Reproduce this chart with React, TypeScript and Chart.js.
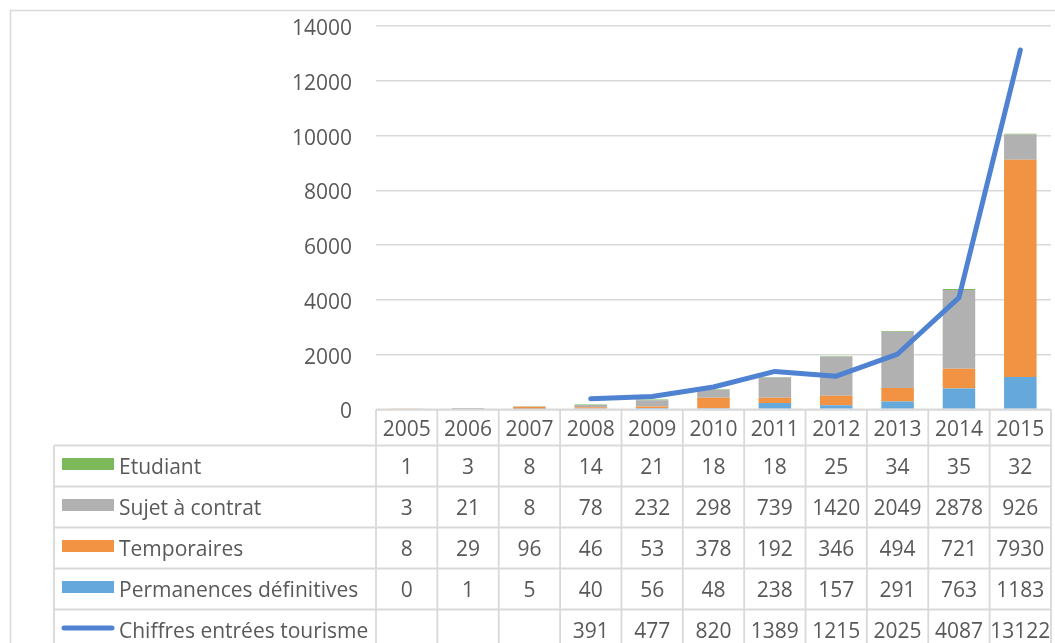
import React, { useEffect, useRef } from 'react';
import { Chart, registerables } from 'chart.js';

Chart.register(...registerables);

const years = ['2005', '2006', '2007', '2008', '2009', '2010', '2011', '2012', '2013', '2014', '2015'];
const etudiant = [1, 3, 8, 14, 21, 18, 18, 25, 34, 35, 32];
const sujetContrat = [3, 21, 8, 78, 232, 298, 739, 1420, 2049, 2878, 926];
const temporaires = [8, 29, 96, 46, 53, 378, 192, 346, 494, 721, 7930];
const permanences = [0, 1, 5, 40, 56, 48, 238, 157, 291, 763, 1183];
const tourisme: (number | null)[] = [null, null, null, 391, 477, 820, 1389, 1215, 2025, 4087, 13122];

const yMin = 0;
const yMax = 14000;
const yStep = 2000;

const FONT = '"Open Sans", Lato, sans-serif';
const TEXT_COLOR = '#595959';
const LINE_COLOR = '#D9D9D9';

const C_ETUD = '#7DB95A';
const C_SUJET = '#B1B1B1';
const C_TEMP = '#F29343';
const C_PERM = '#65A8DC';
const C_TOUR = '#4F82D1';

const tableRows = [
  { label: 'Etudiant', values: etudiant, color: C_ETUD, kind: 'bar' },
  { label: 'Sujet à contrat', values: sujetContrat, color: C_SUJET, kind: 'bar' },
  { label: 'Temporaires', values: temporaires, color: C_TEMP, kind: 'bar' },
  { label: 'Permanences définitives', values: permanences, color: C_PERM, kind: 'bar' },
  { label: 'Chiffres entrées tourisme', values: tourisme, color: C_TOUR, kind: 'line' },
];

const dataTablePlugin = {
  id: 'dataTable',
  afterDraw(chart: any) {
    const ctx: CanvasRenderingContext2D = chart.ctx;
    const area = chart.chartArea;
    const xs = chart.scales.x;
    const n = years.length;
    const colW = (area.right - area.left) / n;
    const top = area.bottom;
    const headerH = 36;
    const rowH = 41;
    const tableLeft = 54;
    const bodyTop = top + headerH;
    const bottom = bodyTop + rowH * tableRows.length;

    ctx.save();
    ctx.strokeStyle = LINE_COLOR;
    ctx.lineWidth = 1.5;
    ctx.beginPath();
    ctx.moveTo(10.5, chart.height);
    ctx.lineTo(10.5, 10.5);
    ctx.lineTo(chart.width, 10.5);
    ctx.stroke();

    ctx.strokeStyle = LINE_COLOR;
    ctx.lineWidth = 1.8;
    ctx.beginPath();
    ctx.moveTo(area.left, top);
    ctx.lineTo(area.right, top);
    for (let k = 0; k <= tableRows.length; k++) {
      const y = bodyTop + k * rowH;
      ctx.moveTo(tableLeft, y);
      ctx.lineTo(area.right, y);
    }
    ctx.moveTo(tableLeft, bodyTop);
    ctx.lineTo(tableLeft, bottom);
    for (let i = 0; i <= n; i++) {
      const x = area.left + i * colW;
      ctx.moveTo(x, top);
      ctx.lineTo(x, bottom);
    }
    ctx.stroke();

    ctx.fillStyle = TEXT_COLOR;
    ctx.font = `21px ${FONT}`;
    ctx.textAlign = 'center';
    ctx.textBaseline = 'middle';
    years.forEach((yr, i) => {
      ctx.fillText(yr, xs.getPixelForValue(i), top + headerH / 2 + 3);
    });

    tableRows.forEach((row, k) => {
      const cy = bodyTop + k * rowH + rowH / 2;
      if (row.kind === 'bar') {
        ctx.fillStyle = row.color;
        ctx.fillRect(62, cy - 8, 52, 12);
      } else {
        ctx.strokeStyle = row.color;
        ctx.lineWidth = 5;
        ctx.lineCap = 'round';
        ctx.beginPath();
        ctx.moveTo(64, cy - 2);
        ctx.lineTo(112, cy - 2);
        ctx.stroke();
      }
      ctx.fillStyle = TEXT_COLOR;
      ctx.textAlign = 'left';
      ctx.fillText(row.label, 119, cy + 2);
      ctx.textAlign = 'center';
      row.values.forEach((v: number | null, i: number) => {
        if (v === null || v === undefined) return;
        ctx.fillText(String(v), xs.getPixelForValue(i), cy + 2);
      });
    });
    ctx.restore();
  },
};

export default function App() {
  const canvasRef = useRef<HTMLCanvasElement | null>(null);

  useEffect(() => {
    if (!canvasRef.current) return;
    const chart = new Chart(canvasRef.current, {
      type: 'bar',
      data: {
        labels: years,
        datasets: [
          {
            type: 'line',
            label: 'Chiffres entrées tourisme',
            data: tourisme,
            borderColor: C_TOUR,
            backgroundColor: C_TOUR,
            borderWidth: 5,
            borderCapStyle: 'round',
            borderJoinStyle: 'round',
            pointRadius: 0,
            tension: 0,
            spanGaps: false,
            stack: 'tour',
            order: 0,
          } as any,
          { label: 'Permanences définitives', data: permanences, backgroundColor: C_PERM, stack: 'main', order: 1 },
          { label: 'Temporaires', data: temporaires, backgroundColor: C_TEMP, stack: 'main', order: 1 },
          { label: 'Sujet à contrat', data: sujetContrat, backgroundColor: C_SUJET, stack: 'main', order: 1 },
          { label: 'Etudiant', data: etudiant, backgroundColor: C_ETUD, stack: 'main', order: 1 },
        ],
      },
      options: {
        animation: false,
        responsive: true,
        maintainAspectRatio: false,
        datasets: { bar: { barPercentage: 0.53, categoryPercentage: 1 } },
        layout: { padding: { left: 0, top: 26, right: 4, bottom: 233.5 } },
        plugins: { legend: { display: false }, tooltip: { enabled: false } },
        scales: {
          x: { display: false, stacked: true, offset: true },
          y: {
            stacked: true,
            min: yMin,
            max: yMax,
            ticks: {
              stepSize: yStep,
              color: TEXT_COLOR,
              font: { family: FONT, size: 21 },
              padding: 0,
              labelOffset: 3,
              callback: (v: any) => String(v),
            },
            grid: {
              color: LINE_COLOR,
              lineWidth: 1.5,
              drawTicks: true,
              tickLength: 24,
              tickColor: 'rgba(0,0,0,0)',
            },
            border: { display: false },
            afterFit(scale: any) {
              scale.width = 376;
            },
          },
        },
      },
      plugins: [dataTablePlugin],
    });
    return () => chart.destroy();
  }, []);

  return (
    <div style={{ position: 'fixed', left: 0, top: 0, width: 1055, height: 643, background: '#fff' }}>
      <canvas ref={canvasRef} />
    </div>
  );
}
